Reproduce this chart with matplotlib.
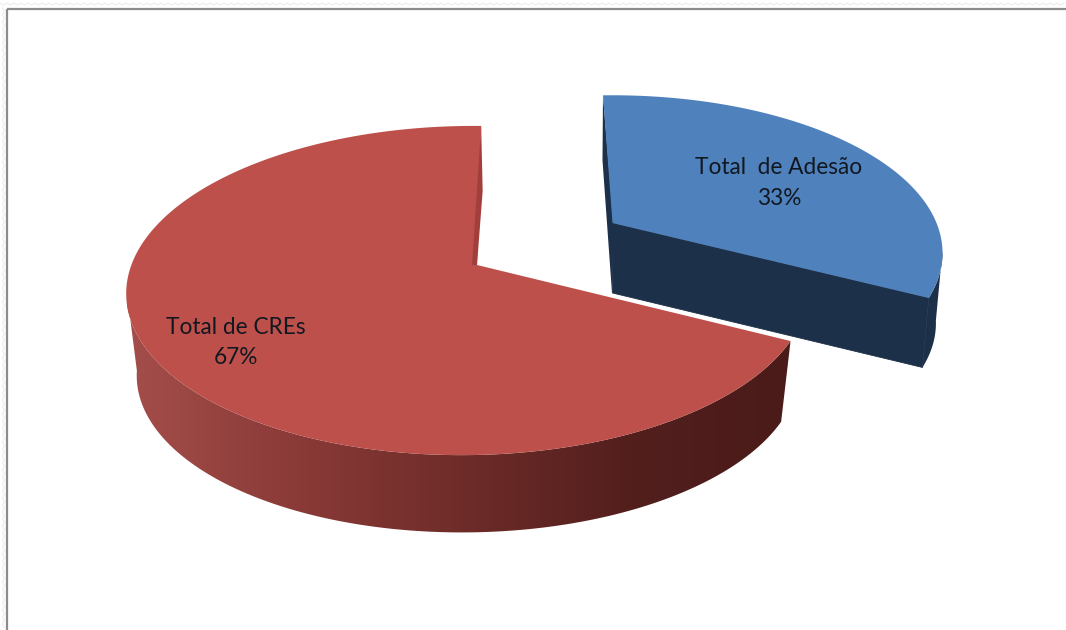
import numpy as np
import matplotlib
matplotlib.use('Agg')
import matplotlib.pyplot as plt
from matplotlib.patches import Polygon, Rectangle
from matplotlib.colors import LinearSegmentedColormap

categories = ['Total  de Adesão', 'Total de CREs']
values = [33, 67]

plt.rcParams['font.family'] = ['Lato', 'DejaVu Sans']

BLUE_TOP = '#4F81BD'
BLUE_SIDE = '#1D3049'
RED_TOP = '#BE504C'
RED_WALL = '#A23F3C'


def rim(th, cx, cy, rx, ry, p, lean=0.0, q=0.0):
    # one point on the tilted disc, angle clockwise from the top
    s = 1 / (1 + p * np.cos(th) + q * np.sin(th))
    dx = rx * np.sin(th) * s
    dy = -ry * np.cos(th) * s
    return np.column_stack([cx + dx + lean * dy, cy + dy])


def drop(pts, cx, cy, scale, depth):
    # lower edge of the side wall
    out = pts.copy()
    out[:, 0] = cx + (pts[:, 0] - cx) * scale
    out[:, 1] = cy + (pts[:, 1] - cy) * scale + depth
    return out


fig = plt.figure(figsize=(10.66, 6.30), dpi=100)
ax = fig.add_axes([0, 0, 1, 1])
ax.set_xlim(0, 1066)
ax.set_ylim(630, 0)
ax.axis('off')

# faint zigzag outside the chart frame
zx = np.arange(0, 1067, 3.5)
ax.plot(zx, 3 + 2 * (np.arange(len(zx)) % 2), color='#EFEFEF', lw=1)
zy = np.arange(8, 631, 3.5)
ax.plot(2.5 + 2 * (np.arange(len(zy)) % 2), zy, color='#EFEFEF', lw=1)
ax.add_patch(Rectangle((7, 9), 1200, 800, fill=False, ec='#8C8C8C', lw=1.6))

tilt = np.radians(-2)
split = 2 * np.pi * values[0] / sum(values) + tilt

# ---------------- blue slice ----------------
bx, by = 612.5, 223
bpar = dict(cx=bx, cy=by, rx=324, ry=152, p=0.19)
th_blue = np.linspace(tilt, split, 200)
top_blue = rim(th_blue, **bpar)

th_wall = np.linspace(np.radians(100), split, 60)
wall_top = rim(th_wall, **bpar)
wall_low = drop(wall_top, bx, by, 0.98, 71)
ax.add_patch(Polygon(np.vstack([wall_top, wall_low[::-1]]), fc=BLUE_SIDE, ec='none'))

corner = top_blue[-1]
apex = np.array([bx, by])
ax.add_patch(Polygon(np.vstack([apex, corner, drop(corner[None], bx, by, 0.98, 71), apex + [0, 70]]),
                     fc=BLUE_SIDE, ec=BLUE_SIDE, lw=0.6))
# thin cut wall on the left
first = top_blue[0]
ax.add_patch(Polygon(np.vstack([first, first + [-0.5, 65], apex + [-0.5, 70], apex + [1, 0]]),
                     fc=BLUE_SIDE, ec='none'))
ax.add_patch(Polygon(np.vstack([apex, top_blue]), fc=BLUE_TOP, ec='none'))

# ---------------- red slice ----------------
rx0, ry0 = 477, 265
rpar = dict(cx=rx0, cy=ry0, rx=337, ry=160.6, p=0.155, lean=-0.03, q=0.025)
th_red = np.linspace(split, 2 * np.pi, 400)
top_red = rim(th_red, **rpar)

th_side = np.linspace(split, np.radians(262), 200)
side_top = rim(th_side, **rpar)
side_low = drop(side_top, rx0, ry0, 0.97, 83)
side = Polygon(np.vstack([side_top, side_low[::-1]]), fc='none', ec='none')
ax.add_patch(side)
shade = LinearSegmentedColormap.from_list('side', [(0, '#A44E4B'), (0.25, '#8A3A37'), (0.5, '#6E2C29'),
                                                   (0.75, '#521F1D'), (1, '#4A1B19')])
img = ax.imshow(np.linspace(0, 1, 256)[None, :], cmap=shade, aspect='auto',
                extent=(127, 800, 630, 0), zorder=1)
img.set_clip_path(side)
ax.set_xlim(0, 1066)
ax.set_ylim(630, 0)

ax.add_patch(Polygon(np.vstack([[rx0, ry0], top_red]), fc=RED_TOP, ec='none', zorder=2))
# thin cut wall inside the notch
last = top_red[-1]
ax.add_patch(Polygon(np.vstack([last, last + [1.5, 65], [rx0, ry0], [rx0 - 5, ry0]]),
                     fc=RED_WALL, ec='none', zorder=3))

# ---------------- labels ----------------
label_pos = [(779, 183), (236, 342.5)]
for cat, v, (lx, ly) in zip(categories, values, label_pos):
    ax.text(lx, ly, f'{cat}\n{v}%', ha='center', va='center', fontsize=16.3,
            color='#111820', linespacing=1.55, zorder=5)

fig.savefig('out.png', dpi=100)
